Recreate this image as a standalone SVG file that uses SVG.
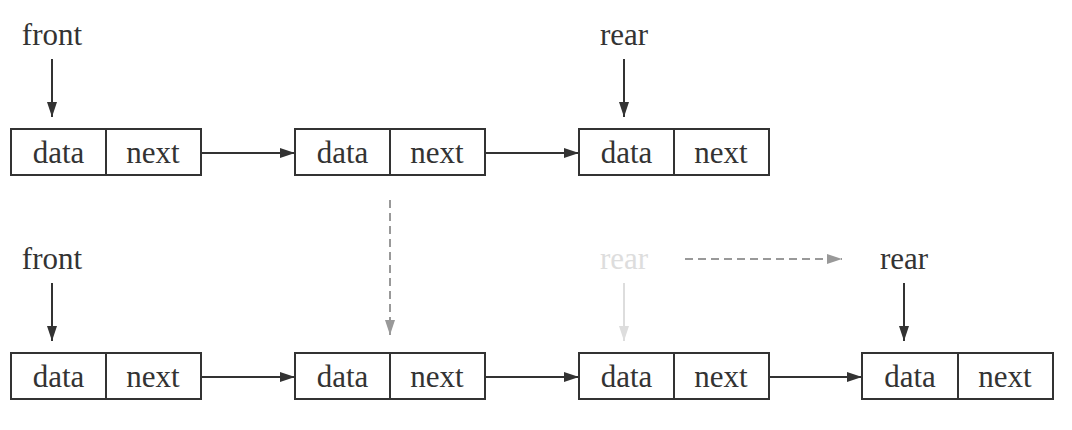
<svg xmlns="http://www.w3.org/2000/svg" width="1072" height="430" viewBox="0 0 1072 430">
<style>
.box{fill:#fff;stroke:#333;stroke-width:2}
.t{font-family:'Liberation Serif',serif;font-size:31px;fill:#333;text-anchor:middle}
.faded{fill:#ddd}
.c{stroke:#333;stroke-width:2;fill:none}
.d{stroke:#999;stroke-width:2;fill:none;stroke-dasharray:8 5}
.l{stroke:#ddd;stroke-width:2;fill:none}
</style>
<defs>
<marker id="ah" markerUnits="userSpaceOnUse" markerWidth="16" markerHeight="12" refX="15" refY="5" orient="auto"><path d="M0,0 L15,5 L0,10 Z" fill="#333"/></marker>
<marker id="ahg" markerUnits="userSpaceOnUse" markerWidth="16" markerHeight="12" refX="15" refY="5" orient="auto"><path d="M0,0 L15,5 L0,10 Z" fill="#999"/></marker>
<marker id="ahl" markerUnits="userSpaceOnUse" markerWidth="16" markerHeight="12" refX="15" refY="5" orient="auto"><path d="M0,0 L15,5 L0,10 Z" fill="#ddd"/></marker>
</defs>
<g id="top-front"><text class="t" x="52" y="45">front</text></g>
<g id="top-rear"><text class="t" x="624" y="45">rear</text></g>
<g id="top-n1"><rect class="box" x="11" y="129" width="190" height="46"/><line class="c" x1="106" y1="129" x2="106" y2="175"/><text class="t" x="58.5" y="163">data</text><text class="t" x="153" y="163">next</text></g>
<g id="top-n2"><rect class="box" x="295" y="129" width="190" height="46"/><line class="c" x1="390" y1="129" x2="390" y2="175"/><text class="t" x="342.5" y="163">data</text><text class="t" x="437" y="163">next</text></g>
<g id="top-n3"><rect class="box" x="579" y="129" width="190" height="46"/><line class="c" x1="674" y1="129" x2="674" y2="175"/><text class="t" x="626.5" y="163">data</text><text class="t" x="721" y="163">next</text></g>
<g id="bot-front"><text class="t" x="52" y="269">front</text></g>
<g id="bot-rear-old"><text class="t faded" x="624" y="269">rear</text></g>
<g id="bot-rear"><text class="t" x="904" y="269">rear</text></g>
<g id="bot-n1"><rect class="box" x="11" y="353" width="190" height="46"/><line class="c" x1="106" y1="353" x2="106" y2="399"/><text class="t" x="58.5" y="387">data</text><text class="t" x="153" y="387">next</text></g>
<g id="bot-n2"><rect class="box" x="295" y="353" width="190" height="46"/><line class="c" x1="390" y1="353" x2="390" y2="399"/><text class="t" x="342.5" y="387">data</text><text class="t" x="437" y="387">next</text></g>
<g id="bot-n3"><rect class="box" x="579" y="353" width="190" height="46"/><line class="c" x1="674" y1="353" x2="674" y2="399"/><text class="t" x="626.5" y="387">data</text><text class="t" x="721" y="387">next</text></g>
<g id="bot-n4"><rect class="box" x="862" y="353" width="191" height="46"/><line class="c" x1="958" y1="353" x2="958" y2="399"/><text class="t" x="910" y="387">data</text><text class="t" x="1005" y="387">next</text></g>
<g id="connectors">
<line class="c" x1="52" y1="59" x2="52" y2="117" marker-end="url(#ah)"/>
<line class="c" x1="624" y1="59" x2="624" y2="117" marker-end="url(#ah)"/>
<line class="c" x1="202" y1="153" x2="295" y2="153" marker-end="url(#ah)"/>
<line class="c" x1="486" y1="153" x2="579" y2="153" marker-end="url(#ah)"/>
<line class="d" x1="390" y1="200" x2="390" y2="335" marker-end="url(#ahg)"/>
<line class="d" x1="685" y1="259" x2="842" y2="259" marker-end="url(#ahg)"/>
<line class="c" x1="52" y1="283" x2="52" y2="341" marker-end="url(#ah)"/>
<line class="l" x1="624" y1="283" x2="624" y2="341" marker-end="url(#ahl)"/>
<line class="c" x1="904" y1="283" x2="904" y2="341" marker-end="url(#ah)"/>
<line class="c" x1="202" y1="377" x2="295" y2="377" marker-end="url(#ah)"/>
<line class="c" x1="486" y1="377" x2="579" y2="377" marker-end="url(#ah)"/>
<line class="c" x1="770" y1="377" x2="862" y2="377" marker-end="url(#ah)"/>
</g>
</svg>
